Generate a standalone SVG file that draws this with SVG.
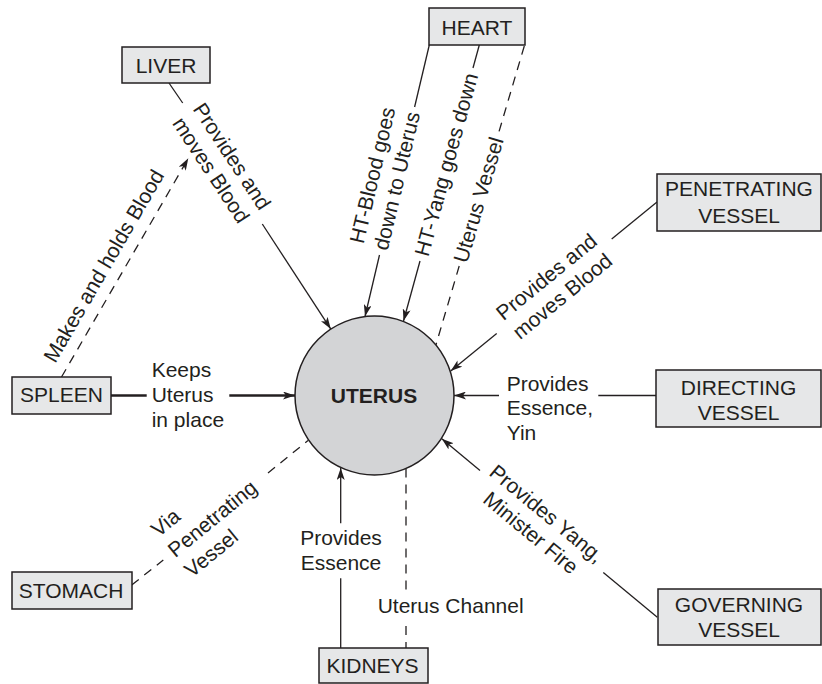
<svg xmlns="http://www.w3.org/2000/svg" width="822" height="684" viewBox="0 0 822 684">
<defs>
<marker id="arr" viewBox="0 0 12 8" refX="12" refY="4" markerWidth="12" markerHeight="8" markerUnits="userSpaceOnUse" orient="auto"><path d="M0,0 L12,4 L0,8 L3,4 z" fill="#231f20"/></marker>
</defs>
<style>
.box{fill:#e6e7e8;stroke:#231f20;stroke-width:1.5}
.t{font-family:"Liberation Sans",Arial,Helvetica,sans-serif;font-size:21px;fill:#231f20}
.c{text-anchor:middle}
.ln{fill:none;stroke:#231f20;stroke-width:1.3}
.d{stroke-dasharray:9 7}
.thick{stroke-width:2.4}
</style>
<rect width="822" height="684" fill="#ffffff"/>

<g id="connectors">
  <!-- LIVER -> UTERUS -->
  <path class="ln" d="M169,83 L182.7,103"/>
  <path class="ln" d="M262.3,224 L330.8,329.1" marker-end="url(#arr)"/>
  <text class="t c" transform="translate(221.8,163) rotate(56.7)"><tspan x="0" y="-5">Provides and</tspan><tspan x="0" y="20">moves Blood</tspan></text>

  <!-- SPLEEN -> LIVER -->
  <path class="ln d" d="M61.5,377 L188.3,158.3" marker-end="url(#arr)"/>
  <text class="t c" transform="translate(110,269.5) rotate(-59.9)">Makes and holds Blood</text>

  <!-- HEART blood -->
  <path class="ln" d="M429.3,45 L414.6,107"/>
  <path class="ln" d="M379.5,255 L365,316.5" marker-end="url(#arr)"/>
  <text class="t c" transform="translate(403.8,182.6) rotate(-76.65)"><tspan x="0" y="-25">HT-Blood goes</tspan><tspan x="0" y="0">down to Uterus</tspan></text>

  <!-- HEART yang -->
  <path class="ln" d="M479.3,45 L473,68"/>
  <path class="ln" d="M420,261 L403.5,321" marker-end="url(#arr)"/>
  <text class="t c" transform="translate(453.3,166.4) rotate(-74.64)">HT-Yang goes down</text>

  <!-- HEART uterus vessel -->
  <path class="ln d" d="M524.3,46 L498.3,134"/>
  <path class="ln d" d="M459.2,266 L435.9,345"/>
  <text class="t c" transform="translate(485.4,202) rotate(-73.5)">Uterus Vessel</text>

  <!-- PENETRATING VESSEL -->
  <path class="ln" d="M657,202 L611.7,239"/>
  <path class="ln" d="M496.7,333.4 L450.7,371.1" marker-end="url(#arr)"/>
  <text class="t c" transform="translate(554.2,286.2) rotate(-39.3)"><tspan x="0" y="-5">Provides and</tspan><tspan x="0" y="20">moves Blood</tspan></text>

  <!-- DIRECTING VESSEL -->
  <path class="ln" d="M656,395.5 L598.3,395.5"/>
  <path class="ln" d="M499,395.5 L454,395.5" marker-end="url(#arr)"/>
  <text class="t"><tspan x="506.7" y="390.5">Provides</tspan><tspan x="506.7" y="415">Essence,</tspan><tspan x="506.7" y="440">Yin</tspan></text>

  <!-- GOVERNING VESSEL -->
  <path class="ln" d="M657.3,617.3 L603.3,572.6"/>
  <path class="ln" d="M480,470.4 L441.8,438.7" marker-end="url(#arr)"/>
  <text class="t c" transform="translate(539,523) rotate(39.6)"><tspan x="0" y="-5">Provides Yang,</tspan><tspan x="0" y="20">Minister Fire</tspan></text>

  <!-- STOMACH -->
  <path class="ln d" d="M131.7,585 L163.3,560"/>
  <path class="ln d" d="M268,473 L308,440.5"/>
  <text class="t" transform="translate(170.9,552.8) rotate(-39.3)"><tspan x="0" y="-19.5">Via</tspan><tspan x="0" y="7">Penetrating</tspan><tspan x="0" y="33">Vessel</tspan></text>

  <!-- KIDNEYS essence -->
  <path class="ln" d="M340.7,648 L340.7,578.3"/>
  <path class="ln" d="M340.7,523.3 L340.7,468" marker-end="url(#arr)"/>
  <text class="t c"><tspan x="341" y="545">Provides</tspan><tspan x="341" y="569.5">Essence</tspan></text>

  <!-- KIDNEYS uterus channel -->
  <path class="ln d" d="M406,468.5 L406,592"/>
  <path class="ln d" d="M406,626 L406,648"/>
  <text class="t" x="377.7" y="613">Uterus Channel</text>

  <!-- SPLEEN -> UTERUS -->
  <path class="ln thick" d="M111,395.5 L146.7,395.5"/>
  <path class="ln thick" d="M229.3,395.5 L295,395.5" marker-end="url(#arr)"/>
  <text class="t"><tspan x="151.7" y="377">Keeps</tspan><tspan x="151.7" y="401.7">Uterus</tspan><tspan x="151.7" y="427">in place</tspan></text>
</g>

<g id="uterus">
  <circle cx="374.5" cy="395.5" r="79.5" fill="#d3d4d6" stroke="#231f20" stroke-width="1.5"/>
  <text class="t c" x="374" y="403.3" font-weight="bold">UTERUS</text>
</g>
<g id="liver">
  <rect class="box" x="122" y="47" width="88" height="36"/>
  <text class="t c" x="166" y="73">LIVER</text>
</g>
<g id="heart">
  <rect class="box" x="429" y="8" width="96" height="37"/>
  <text class="t c" x="477" y="35">HEART</text>
</g>
<g id="penetrating-vessel">
  <rect class="box" x="657" y="174" width="164" height="57"/>
  <text class="t c"><tspan x="739" y="196">PENETRATING</tspan><tspan x="739" y="222.5">VESSEL</tspan></text>
</g>
<g id="directing-vessel">
  <rect class="box" x="656" y="370" width="165" height="57"/>
  <text class="t c"><tspan x="738.5" y="395">DIRECTING</tspan><tspan x="738.5" y="419.5">VESSEL</tspan></text>
</g>
<g id="governing-vessel">
  <rect class="box" x="658" y="589" width="163" height="56"/>
  <text class="t c"><tspan x="739" y="611.7">GOVERNING</tspan><tspan x="739" y="637">VESSEL</tspan></text>
</g>
<g id="spleen">
  <rect class="box" x="12" y="377" width="99" height="37"/>
  <text class="t c" x="61.5" y="401.7">SPLEEN</text>
</g>
<g id="stomach">
  <rect class="box" x="12" y="572" width="120" height="37"/>
  <text class="t c" x="71" y="597.7">STOMACH</text>
</g>
<g id="kidneys">
  <rect class="box" x="319" y="648" width="109" height="35"/>
  <text class="t c" x="372.5" y="673">KIDNEYS</text>
</g>
</svg>
